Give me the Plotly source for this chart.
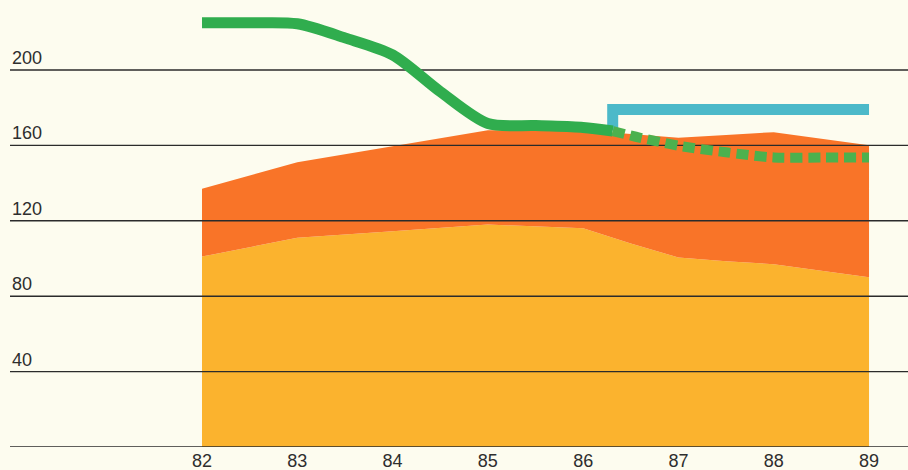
import plotly.graph_objects as go

# ---- data -------------------------------------------------------------
years = [82, 83, 84, 85, 86, 86.5, 87, 87.5, 88, 89]
lower_band = [101, 111, 114.5, 118, 116, 108, 100.5, 98.5, 97, 90]
total_band = [137, 151, 159.5, 168, 168, 166, 164, 165.5, 167, 160]

trend_x = [82, 82.5, 83, 83.5, 84, 84.5, 85, 85.5, 86, 86.31]
trend_y = [225, 225, 224.5, 217, 208, 188.5, 171.6, 170.5, 169.5, 167.6]

forecast_x = [86.31, 86.6, 87, 87.5, 88, 88.5, 89]
forecast_y = [167.6, 164, 159.8, 156.3, 153.6, 153.5, 153.5]

target_x = [86.31, 86.31, 89.0]
target_y = [168, 179, 179]

tick_years = [82, 83, 84, 85, 86, 87, 88, 89]
tick_labels = ["82", "83", "84", "85", "86", "87", "88", "89"]
grid_values = [0, 40, 80, 120, 160, 200]
grid_labels = ["", "40", "80", "120", "160", "200"]

# ---- styling ----------------------------------------------------------
BG = "#fdfcef"
YELLOW = "#fbb32e"
ORANGE = "#f97428"
GREEN = "#30ad4e"
GREEN_DASH = "#4cb14e"
CYAN = "#4cb9c9"
GRID = "#2b2b2b"
FONT = "Liberation Sans, Arial, sans-serif"

X_RANGE = [79.985, 89.409]
Y_RANGE = [0, 237.1]

fig = go.Figure()

# stacked-looking areas
fig.add_trace(go.Scatter(
    x=years, y=lower_band, mode="lines", fill="tozeroy",
    fillcolor=YELLOW, line=dict(width=0, color=YELLOW),
    hoverinfo="skip", showlegend=False,
))
fig.add_trace(go.Scatter(
    x=years, y=total_band, mode="lines", fill="tonexty",
    fillcolor=ORANGE, line=dict(width=0, color=ORANGE),
    hoverinfo="skip", showlegend=False,
))

# horizontal rules drawn over the areas
for v in grid_values:
    fig.add_trace(go.Scatter(
        x=X_RANGE, y=[v, v], mode="lines",
        line=dict(color=GRID, width=1.4),
        hoverinfo="skip", showlegend=False, cliponaxis=False,
    ))

# target bracket
fig.add_trace(go.Scatter(
    x=target_x, y=target_y, mode="lines",
    line=dict(color=CYAN, width=11),
    hoverinfo="skip", showlegend=False,
))

# actual trend (solid) and projection (dashed)
fig.add_trace(go.Scatter(
    x=trend_x, y=trend_y, mode="lines",
    line=dict(color=GREEN, width=11, shape="spline", smoothing=0.8),
    hoverinfo="skip", showlegend=False,
))
fig.add_trace(go.Scatter(
    x=forecast_x, y=forecast_y, mode="lines",
    line=dict(color=GREEN_DASH, width=10, dash="12px,6px",
              shape="spline", smoothing=0.8),
    hoverinfo="skip", showlegend=False,
))

# value labels sitting on top of each rule
for v, t in zip(grid_values, grid_labels):
    if t:
        fig.add_annotation(
            x=0, xref="paper", xanchor="left",
            y=v, yref="y", yanchor="bottom", yshift=0,
            text=t, showarrow=False,
            font=dict(family=FONT, size=18, color="#2e2e2e"),
        )

fig.update_layout(
    width=908, height=470,
    margin=dict(l=10, r=0, t=0, b=23),
    paper_bgcolor=BG, plot_bgcolor=BG,
    xaxis=dict(
        range=X_RANGE, showgrid=False, zeroline=False, showline=False,
        tickmode="array", tickvals=tick_years, ticktext=tick_labels,
        ticks="", ticklabelstandoff=1, automargin=False,
        tickfont=dict(family=FONT, size=18, color="#2e2e2e"),
        fixedrange=True,
    ),
    yaxis=dict(
        range=Y_RANGE, showgrid=False, zeroline=False, showline=False,
        showticklabels=False, fixedrange=True, automargin=False,
    ),
)

fig.write_html("out.html")
